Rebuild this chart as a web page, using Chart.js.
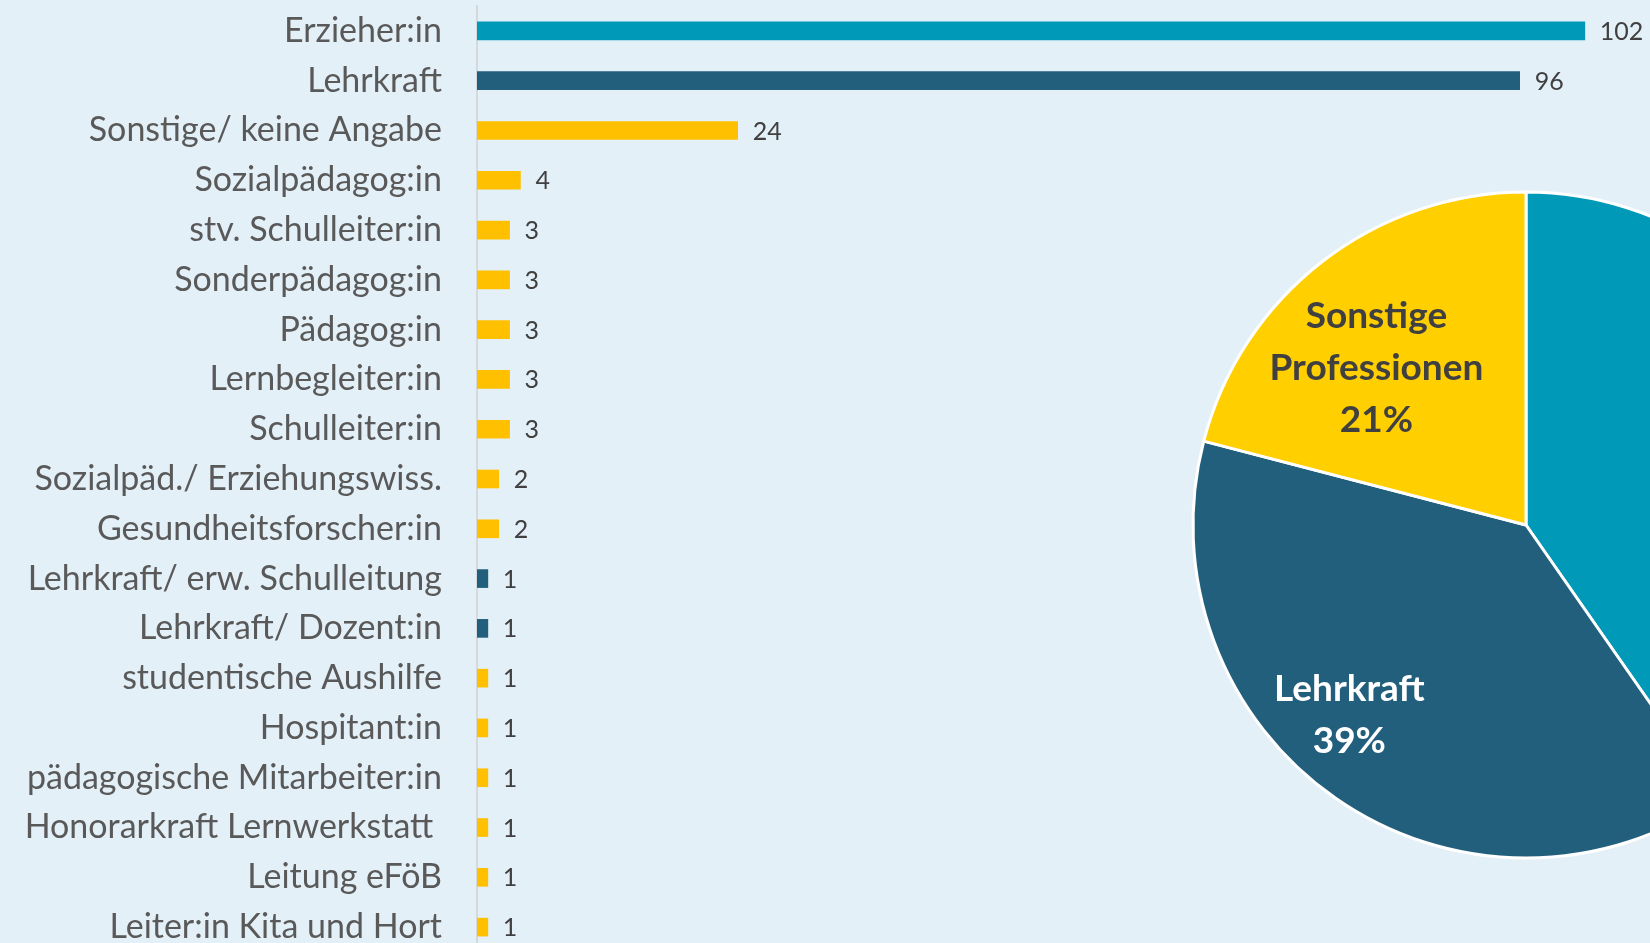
<!DOCTYPE html>
<html lang="de">
<head>
<meta charset="utf-8">
<title>Professionen</title>
<script src="https://cdn.jsdelivr.net/npm/chart.js@4.4.1/dist/chart.umd.min.js"></script>
<style>
  html, body {
    margin: 0;
    padding: 0;
    width: 1650px;
    height: 943px;
    overflow: hidden;
    background: #e4f0f8;
  }
  #graficoBarras {
    position: absolute;
    left: 0;
    top: 0;
  }
  #graficoTorta {
    position: absolute;
    left: 1176px;
    top: 175px;
  }
</style>
</head>
<body>
<canvas id="graficoBarras" width="1650" height="952"></canvas>
<canvas id="graficoTorta" width="700" height="700"></canvas>

<script>
// datos de las barras (de arriba hacia abajo)
const categorias = [
  "Erzieher:in",
  "Lehrkraft",
  "Sonstige/ keine Angabe",
  "Sozialpädagog:in",
  "stv. Schulleiter:in",
  "Sonderpädagog:in",
  "Pädagog:in",
  "Lernbegleiter:in",
  "Schulleiter:in",
  "Sozialpäd./ Erziehungswiss.",
  "Gesundheitsforscher:in",
  "Lehrkraft/ erw. Schulleitung",
  "Lehrkraft/ Dozent:in",
  "studentische Aushilfe",
  "Hospitant:in",
  "pädagogische Mitarbeiter:in",
  "Honorarkraft Lernwerkstatt ",
  "Leitung eFöB",
  "Leiter:in Kita und Hort",
];
const valores = [102, 96, 24, 4, 3, 3, 3, 3, 3, 2, 2, 1, 1, 1, 1, 1, 1, 1, 1];
// 0 = Erzieher:in, 1 = Lehrkraft, 2 = Sonstige
const grupoBarra = [0, 1, 2, 2, 2, 2, 2, 2, 2, 2, 2, 1, 1, 2, 2, 2, 2, 2, 2];

// datos de la torta
const etiquetasTorta = [["Erzieher:in"], ["Lehrkraft"], ["Sonstige", "Professionen"]];
const valoresTorta = [102, 98, 53];

const coloresBarra = ["#0099b8", "#225f7c", "#ffc000"];
const coloresTorta = ["#0099b8", "#225f7c", "#ffcf00"];
const colorTextoTorta = ["#ffffff", "#ffffff", "#404040"];
const radioEtiqueta = [0.645, 0.78, 0.65];
const giroEtiqueta = [7.5, 8, -6];

const FUENTE = "Lato, 'Open Sans', sans-serif";

const pluginValores = {
  id: "pluginValores",
  afterDatasetsDraw(chart) {
    const { ctx } = chart;
    const meta = chart.getDatasetMeta(0);
    const dataset = chart.data.datasets[0];

    ctx.save();
    ctx.font = `25px ${FUENTE}`;
    ctx.fillStyle = "#404040";
    ctx.textAlign = "left";
    ctx.textBaseline = "middle";

    meta.data.forEach((barra, index) => {
      ctx.fillText(String(dataset.data[index]), barra.x + 15, barra.y + 1);
    });

    ctx.restore();
  },
};

const pluginEtiquetasTorta = {
  id: "pluginEtiquetasTorta",
  afterDatasetsDraw(chart) {
    const { ctx } = chart;
    const dataset = chart.data.datasets[0];
    const total = dataset.data.reduce((acc, v) => acc + v, 0);
    const meta = chart.getDatasetMeta(0);

    ctx.save();
    ctx.font = `bold 37px ${FUENTE}`;
    ctx.textAlign = "center";
    ctx.textBaseline = "middle";

    meta.data.forEach((arco, index) => {
      const medio = (arco.startAngle + arco.endAngle) / 2 + (giroEtiqueta[index] * Math.PI) / 180;
      const r = arco.outerRadius * radioEtiqueta[index];
      const x = arco.x + Math.cos(medio) * r;
      const y = arco.y + Math.sin(medio) * r;
      const porcentaje = Math.round((dataset.data[index] / total) * 100) + "%";
      const lineas = [...chart.data.labels[index], porcentaje];
      const alto = 52;
      const inicio = y - ((lineas.length - 1) * alto) / 2;

      ctx.fillStyle = colorTextoTorta[index];
      lineas.forEach((linea, i) => {
        ctx.fillText(linea, x, inicio + i * alto);
      });
    });

    ctx.restore();
  },
};

new Chart(document.getElementById("graficoBarras").getContext("2d"), {
  type: "bar",
  data: {
    labels: categorias,
    datasets: [
      {
        data: valores,
        backgroundColor: grupoBarra.map((g) => coloresBarra[g]),
        barThickness: 18,
      },
    ],
  },
  options: {
    indexAxis: "y",
    responsive: false,
    animation: false,
    layout: { padding: { top: 6, right: 0, bottom: 0, left: 0 } },
    plugins: {
      legend: { display: false },
      tooltip: { enabled: false },
    },
    scales: {
      x: {
        display: false,
        min: 0,
        max: 108,
      },
      y: {
        afterFit: (scale) => {
          scale.width = 477;
          scale.paddingTop = 0;
          scale.paddingBottom = 0;
        },
        grid: { display: false, drawTicks: false },
        border: { display: true, color: "#d6d9dc", width: 2 },
        ticks: {
          color: "#595959",
          padding: 35,
          autoSkip: false,
          font: { family: FUENTE, size: 34 },
        },
      },
    },
  },
  plugins: [pluginValores],
});

new Chart(document.getElementById("graficoTorta").getContext("2d"), {
  type: "pie",
  data: {
    labels: etiquetasTorta,
    datasets: [
      {
        data: valoresTorta,
        backgroundColor: coloresTorta,
        borderColor: "#ffffff",
        borderWidth: 3,
        radius: 333,
      },
    ],
  },
  options: {
    responsive: false,
    animation: false,
    plugins: {
      legend: { display: false },
      tooltip: { enabled: false },
    },
  },
  plugins: [pluginEtiquetasTorta],
});
</script>
</body>
</html>
